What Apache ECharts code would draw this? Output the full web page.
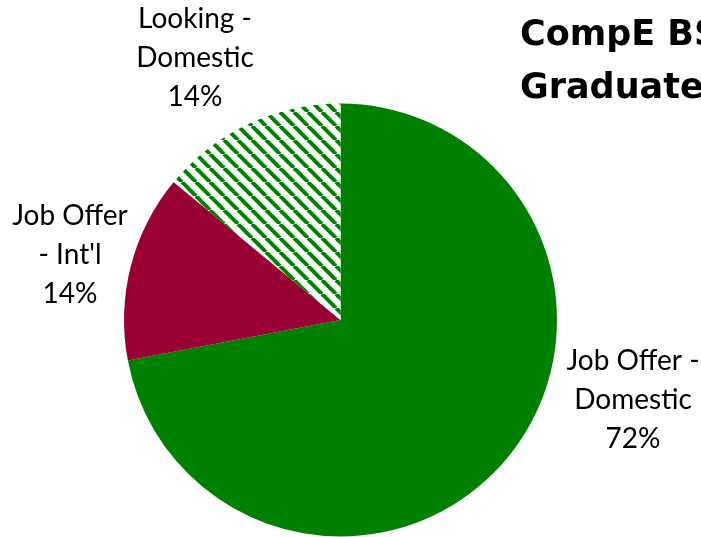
<!DOCTYPE html>
<html>
<head>
<meta charset="utf-8">
<script src="https://cdn.jsdelivr.net/npm/echarts@6/dist/echarts.min.js"></script>
<style>
  html, body { margin: 0; padding: 0; background: #fff; }
  #chart { width: 701px; height: 537px; }
</style>
</head>
<body>
<div id="chart"></div>
<script>
// slice names (line breaks as they wrap in the picture) and percentages
const categories = ["Job Offer -\nDomestic", "Job Offer\n- Int'l", "Looking -\nDomestic"];
const percents = [72, 14, 14];

// hatch for the "Looking" slice
function makeHatch() {
  const s = 14;
  const c = document.createElement("canvas");
  c.width = s;
  c.height = s;
  const ctx = c.getContext("2d");
  ctx.fillStyle = "#ffffff";
  ctx.fillRect(0, 0, s, s);
  ctx.strokeStyle = "#008000";
  ctx.lineWidth = 4;
  for (let x0 = -s; x0 <= s; x0 += s) {
    ctx.beginPath();
    ctx.moveTo(x0, 0);
    ctx.lineTo(x0 + s, s);
    ctx.stroke();
  }
  return c;
}

const fills = [
  "#008000",
  "#990033",
  { image: makeHatch(), repeat: "repeat" }
];

// where each label sits (centre of text block)
const labelSpots = [[633, 400], [70, 255], [195, 58]];

const myChart = echarts.init(document.getElementById("chart"));
myChart.setOption({
  animation: false,
  title: {
    text: "CompE BS\nGraduates",
    left: 515,
    top: 4,
    textStyle: {
      fontFamily: "DejaVu Sans",
      fontWeight: "bold",
      fontSize: 35,
      lineHeight: 53,
      color: "#000"
    }
  },
  series: [
    {
      type: "pie",
      center: [340.5, 320],
      radius: 216.5,
      startAngle: 90,
      clockwise: true,
      data: categories.map((name, i) => ({
        name: name,
        value: percents[i],
        itemStyle: { color: fills[i] }
      })),
      label: {
        show: true,
        position: "outside",
        fontFamily: "Lato",
        fontSize: 28,
        lineHeight: 39,
        color: "#000",
        align: "center",
        overflow: "none",
        formatter: p => p.name + "\n" + p.value + "%"
      },
      labelLine: { show: false },
      labelLayout: p => ({
        x: labelSpots[p.dataIndex][0],
        y: labelSpots[p.dataIndex][1],
        align: "center",
        verticalAlign: "middle"
      })
    }
  ]
});
</script>
</body>
</html>
